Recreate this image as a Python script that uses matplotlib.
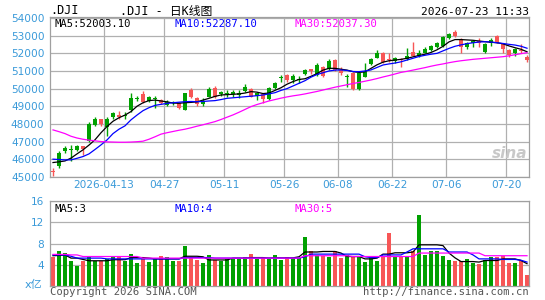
import numpy as np
import matplotlib
matplotlib.use("Agg")
import matplotlib.pyplot as plt

plt.rcParams['font.family'] = ['DejaVu Sans', 'Noto Sans CJK SC']

# daily OHLC, index 0 = first bar on the chart
opens = [45250, 46350, 46630, 46600, 46720, 46590, 48000, 48280, 48010, 48300,
         48600, 48400, 48500, 49490, 49470, 49260, 49540, 49470, 49170, 49260,
         49250, 48920, 49740, 49540, 49110, 49320, 49960, 49510, 49800, 49760,
         49830, 49740, 50110, 49540, 49770, 49400, 50020, 50340, 50680, 50490,
         50720, 50560, 51060, 51000, 51340, 50720, 51570, 51060, 50880, 50730,
         49960, 50900, 50960, 51680, 52000, 51530, 51620, 51720, 51640, 51850,
         51850, 52040, 52230, 52410, 52570, 52900, 53090, 53000, 52380, 52570,
         52720, 52570, 52530, 52750, 52600, 52230, 51900, 52250, 52150, 51620]
highs = [45500, 46450, 46760, 46820, 46780, 46760, 48090, 48370, 48300, 48380,
         48700, 48750, 48700, 49740, 49560, 49870, 49600, 49560, 49400, 49350,
         49300, 49250, 49760, 50050, 49500, 49450, 50100, 50130, 49850, 49900,
         49900, 49900, 50250, 50020, 49830, 49740, 50080, 50400, 50750, 50850,
         50850, 50700, 51100, 51130, 51430, 51290, 51670, 51670, 51240, 50850,
         50960, 50960, 51440, 51750, 52200, 52050, 52000, 51780, 51720, 52280,
         52660, 52200, 52340, 52470, 52620, 52970, 53130, 53320, 52850, 52620,
         52760, 52850, 52600, 52850, 53040, 52600, 52230, 52280, 52530, 51900]
lows = [45070, 45480, 46350, 45900, 46480, 46250, 47000, 47860, 47860, 47300,
        48300, 48250, 48250, 48700, 49300, 49170, 49250, 48890, 49100, 49000,
        49050, 48850, 48780, 49480, 48990, 49030, 49500, 49450, 49600, 49550,
        49550, 49480, 49820, 49500, 49360, 49170, 49350, 49960, 50400, 50400,
        50300, 50300, 50780, 50830, 50720, 50680, 51060, 51020, 50800, 50100,
        49920, 49920, 50640, 51320, 51720, 51470, 51530, 51470, 51240, 51620,
        51830, 51800, 52000, 52150, 52280, 52340, 52810, 52940, 52000, 52250,
        52340, 52340, 52020, 52400, 52570, 52000, 51780, 51870, 52000, 51500]
closes = [45350, 45600, 46450, 46540, 46530, 46720, 47050, 47920, 48280, 47800,
          48380, 48520, 48450, 48790, 49430, 49680, 49320, 49430, 49360, 49070,
          49200, 49200, 48790, 49920, 49450, 49110, 49540, 50020, 49700, 49720,
          49700, 49640, 49880, 49980, 49580, 49700, 49400, 50020, 50620, 50770,
          50490, 50500, 50830, 51100, 50770, 51240, 51100, 51620, 51060, 50680,
          50900, 49960, 50680, 51380, 51750, 52000, 51680, 51580, 51680, 51660,
          52090, 51850, 52040, 52190, 52340, 52410, 52850, 53220, 52800, 52340,
          52600, 52720, 52060, 52570, 53000, 52530, 52190, 52000, 52200, 51810]

ma5 = [45810, 45850, 45900, 46060, 46300, 46530, 46800, 47100, 47500, 47850,
       48150, 48350, 48500, 48700, 49000, 49200, 49320, 49350, 49300, 49250,
       49180, 49170, 49200, 49220, 49250, 49350, 49450, 49560, 49640, 49660,
       49680, 49700, 49750, 49830, 49800, 49720, 49750, 49900, 50050, 50250,
       50400, 50520, 50560, 50700, 50850, 51050, 51150, 51150, 51100, 51050,
       50960, 50920, 50950, 51150, 51350, 51500, 51580, 51620, 51660, 51720,
       51800, 51880, 51950, 52050, 52200, 52400, 52650, 52780, 52780, 52760,
       52740, 52700, 52660, 52630, 52600, 52540, 52420, 52320, 52230, 52090]
ma10 = [46000, 45980, 45960, 45960, 46050, 46150, 46300, 46550, 46810, 47090,
        47450, 47700, 47890, 48230, 48500, 48750, 48920, 49050, 49110, 49160,
        49200, 49230, 49260, 49270, 49260, 49270, 49300, 49320, 49380, 49450,
        49480, 49510, 49540, 49570, 49600, 49640, 49700, 49770, 49900, 50000,
        50150, 50300, 50450, 50650, 50800, 50900, 51000, 51050, 51060, 51030,
        50970, 50960, 51000, 51060, 51200, 51340, 51400, 51450, 51520, 51620,
        51720, 51820, 51890, 51950, 52000, 52140, 52280, 52400, 52480, 52550,
        52600, 52640, 52660, 52640, 52600, 52560, 52510, 52470, 52400, 52290]
ma30 = [47660, 47560, 47450, 47300, 47200, 47130, 47080, 47040, 47000, 46980,
        46970, 46960, 46960, 46970, 46990, 47020, 47130, 47270, 47420, 47500,
        47570, 47640, 47700, 47780, 47870, 47950, 48040, 48130, 48250, 48380,
        48510, 48660, 48820, 48980, 49100, 49200, 49300, 49380, 49460, 49530,
        49590, 49640, 49700, 49770, 49840, 49920, 50000, 50080, 50150, 50220,
        50290, 50350, 50420, 50490, 50570, 50660, 50740, 50830, 50920, 50980,
        51050, 51120, 51190, 51270, 51340, 51400, 51470, 51530, 51580, 51620,
        51660, 51690, 51720, 51750, 51780, 51810, 51860, 51920, 51980, 52040]

# volume, 亿
volume = [5.4, 6.6, 6.3, 4.8, 3.7, 4.8, 5.5, 4.8, 4.8, 5.0,
          5.4, 5.5, 4.8, 6.0, 4.4, 5.0, 4.6, 5.0, 5.7, 5.4,
          4.8, 4.8, 7.5, 5.2, 4.9, 4.3, 5.8, 4.9, 4.8, 5.0,
          5.0, 5.0, 5.4, 6.0, 5.0, 5.2, 5.05, 5.9, 4.95, 5.55,
          5.2, 5.2, 9.3, 6.6, 5.9, 5.7, 5.4, 6.6, 5.2, 5.9,
          5.55, 5.7, 4.6, 5.4, 4.8, 5.4, 10.05, 5.55, 5.55, 5.55,
          6.6, 13.4, 5.9, 6.6, 6.5, 5.7, 4.95, 4.8, 4.8, 5.05,
          4.4, 4.2, 4.95, 5.4, 5.55, 5.7, 4.4, 4.4, 4.8, 2.1]
vol_ma5 = [5.7, 5.75, 5.85, 5.25, 5.25, 5.0, 4.75, 4.75, 4.75, 4.75,
           4.95, 4.95, 4.95, 5.35, 5.35, 5.35, 5.25, 5.1, 5.1, 5.1,
           5.1, 5.1, 5.6, 5.6, 5.6, 5.5, 4.9, 4.9, 4.9, 4.9,
           5.25, 5.25, 5.25, 5.35, 5.35, 5.35, 5.25, 5.3, 5.3, 5.3,
           5.3, 5.5, 6.4, 6.4, 6.4, 6.5, 6.5, 6.5, 6.2, 5.55,
           5.55, 5.55, 5.1, 5.1, 5.25, 6.0, 6.0, 6.25, 6.25, 6.25,
           6.4, 7.75, 7.75, 7.75, 7.75, 7.6, 6.2, 5.3, 4.6, 4.6,
           4.6, 4.5, 4.8, 4.8, 4.8, 5.1, 5.1, 5.1, 4.8, 4.2]
vol_ma10 = [5.85, 5.85, 5.85, 5.6, 5.25, 5.25, 5.25, 5.25, 5.25, 5.1,
            5.1, 5.1, 5.1, 5.1, 5.1, 5.1, 5.1, 5.1, 5.1, 5.1,
            5.1, 5.1, 5.35, 5.35, 5.35, 5.35, 5.35, 5.25, 5.25, 5.25,
            5.25, 5.25, 5.25, 5.25, 5.25, 5.25, 5.25, 5.25, 5.25, 5.25,
            5.25, 5.25, 5.5, 6.0, 6.0, 6.0, 6.0, 6.0, 6.0, 6.0,
            6.0, 6.0, 5.5, 5.35, 5.35, 5.85, 5.85, 5.85, 5.85, 6.4,
            7.0, 7.0, 7.0, 7.0, 7.0, 7.0, 6.4, 6.4, 6.4, 6.4,
            5.85, 5.1, 5.1, 5.1, 5.1, 5.0, 5.0, 5.0, 4.85, 4.5]
vol_ma30 = [5.95, 5.95, 5.95, 5.85, 5.85, 5.55, 5.55, 5.55, 5.55, 5.55,
            5.55, 5.55, 5.55, 5.55, 5.55, 5.25, 5.25, 5.25, 5.25, 5.25,
            5.25, 5.25, 5.25, 5.25, 5.25, 5.25, 5.25, 5.25, 5.25, 5.25,
            5.25, 5.25, 5.25, 5.25, 5.25, 5.25, 5.25, 5.25, 5.25, 5.25,
            5.25, 5.25, 5.7, 5.7, 5.7, 5.7, 5.7, 5.7, 5.7, 5.7,
            5.55, 5.55, 5.55, 5.55, 5.55, 5.55, 5.55, 5.55, 5.55, 5.55,
            5.55, 6.2, 6.2, 6.2, 6.2, 6.2, 6.2, 6.2, 6.2, 6.2,
            6.2, 6.2, 5.7, 5.7, 5.7, 5.7, 5.7, 5.7, 5.7, 5.7]

date_pos = [9, 19, 29, 39, 48, 57, 66, 76]
date_labels = ['2026-04-13', '04-27', '05-11', '05-26', '06-08', '06-22', '07-06', '07-20']
price_ticks = [45000, 46000, 47000, 48000, 49000, 50000, 51000, 52000, 53000, 54000]
vol_ticks = [4, 8, 12, 16]

RED = '#f75656'
GREEN = '#00a000'
TICK = '#3a9ad9'
GRID = '#b0b0b0'
MONO = 'DejaVu Sans Mono'

W, H = 545, 300
fig = plt.figure(figsize=(W / 100, H / 100), dpi=100)
fig.patch.set_facecolor('white')


def px_axes(x0, y0, x1, y1):
    return fig.add_axes([x0 / W, 1 - y1 / H, (x1 - x0) / W, (y1 - y0) / H])


def style(ax):
    for s in ax.spines.values():
        s.set_color('#a0a0a0')
        s.set_linewidth(0.9)
    ax.tick_params(length=0, colors=TICK, labelsize=7.6, pad=4)


n = len(closes)
x = np.arange(n)
o = np.array(opens)
c = np.array(closes)
up = c >= o
colors = np.where(up, RED, GREEN)

# ---- price panel
ax = px_axes(50, 17, 529, 177)
style(ax)
ax.set_xlim(-0.5, 79.33)
ax.set_ylim(44990, 54060)
ax.set_yticks(price_ticks)
ax.set_yticklabels([str(t) for t in price_ticks])
# grid lines sit on the left edge of the labelled day
ax.set_xticks([p - 0.5 for p in date_pos])
ax.set_xticklabels(date_labels)
ax.tick_params(axis='x', pad=2)
ax.grid(True, color=GRID, linewidth=0.9)
ax.set_axisbelow(True)

ax.vlines(x, lows, highs, colors=colors, linewidth=1.0, zorder=2)
body = np.maximum(np.abs(c - o), 45)
ax.bar(x, body, bottom=np.minimum(o, c), width=0.72, color=colors, zorder=3)
ax.plot(x, ma5, color='black', linewidth=0.9, zorder=4)
ax.plot(x, ma10, color='#0000ff', linewidth=0.9, zorder=4)
ax.plot(x, ma30, color='#ff00ff', linewidth=0.9, zorder=4)

ax.text(0.01, 0.985, 'MA5:52003.10', transform=ax.transAxes, va='top', ha='left',
        fontsize=7.6, family=MONO, color='black')
ax.text(0.26, 0.985, 'MA10:52287.10', transform=ax.transAxes, va='top', ha='left',
        fontsize=7.6, family=MONO, color='#0000ff')
ax.text(0.51, 0.985, 'MA30:52037.30', transform=ax.transAxes, va='top', ha='left',
        fontsize=7.6, family=MONO, color='#ff00ff')
ax.text(0.997, 0.1, 'sina', transform=ax.transAxes, ha='right', va='bottom',
        fontsize=11, style='italic', fontweight='bold', color='#c8c8c8', zorder=1)

# ---- volume panel
av = px_axes(50, 201, 529, 286)
style(av)
av.set_xlim(-0.5, 79.33)
av.set_ylim(0, 16)
av.set_yticks(vol_ticks)
av.set_xticks([])
av.yaxis.grid(True, color=GRID, linewidth=0.9)
av.set_axisbelow(True)
av.bar(x, volume, width=0.78, color=colors, zorder=2)
av.plot(x, vol_ma5, color='black', linewidth=0.9, zorder=3)
av.plot(x, vol_ma10, color='#0000ff', linewidth=0.9, zorder=3)
av.plot(x, vol_ma30, color='#ff00ff', linewidth=0.9, zorder=3)
av.text(0.01, 0.97, 'MA5:3', transform=av.transAxes, va='top', fontsize=7.6, family=MONO, color='black')
av.text(0.26, 0.97, 'MA10:4', transform=av.transAxes, va='top', fontsize=7.6, family=MONO, color='#0000ff')
av.text(0.51, 0.97, 'MA30:5', transform=av.transAxes, va='top', fontsize=7.6, family=MONO, color='#ff00ff')
fig.text(34 / W, 1 - 285 / H, 'x亿', ha='center', va='center', fontsize=8, color=TICK,
         family=['DejaVu Sans', 'Noto Sans CJK SC'])

# ---- header / footer texts
fig.text(50 / W, 1 - 11 / H, '.DJI', ha='left', va='center', fontsize=8.5, family=MONO)
fig.text(120 / W, 1 - 11 / H, '.DJI - 日K线图', ha='left', va='center', fontsize=8.5,
         family=['DejaVu Sans Mono', 'Noto Sans CJK SC'])
fig.text(529 / W, 1 - 12 / H, '2026-07-23 11:33', ha='right', va='center', fontsize=8, family=MONO)
fig.text(50 / W, 1 - 292 / H, 'Copyright 2026 SINA.COM', ha='left', va='center',
         fontsize=7.6, family=MONO, color='#555555')
fig.text(529 / W, 1 - 292 / H, 'http://finance.sina.com.cn', ha='right', va='center',
         fontsize=7.6, family=MONO, color='#555555')

fig.savefig('out.png', dpi=100)
